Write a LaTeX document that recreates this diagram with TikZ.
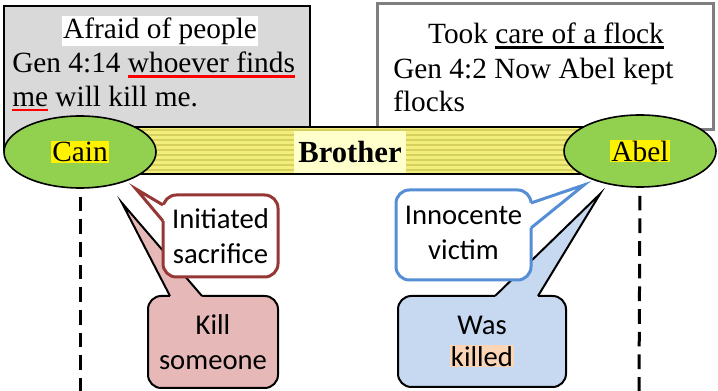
\documentclass[tikz,border=0pt]{standalone}
\usepackage{fontspec}
\setmainfont{Liberation Serif}
\newfontfamily\calloutfont{Carlito}
\usetikzlibrary{calc,shapes.geometric}

\definecolor{boxgray}{HTML}{D9D9D9}
\definecolor{boxframe}{HTML}{7F7F7F}
\definecolor{barlight}{HTML}{F2EE7C}
\definecolor{bardark}{HTML}{D6D05E}
\definecolor{brotheryellow}{HTML}{FFFFCC}
\definecolor{persongreen}{HTML}{92D050}
\definecolor{cainred}{HTML}{953735}
\definecolor{abelblue}{HTML}{558ED5}
\definecolor{killpink}{HTML}{E6B9B8}
\definecolor{wasblue}{HTML}{C6D9F1}
\definecolor{killedpeach}{HTML}{FBD5B5}

\newsavebox\ulbox
\newcommand\lineunder[2]{\sbox\ulbox{#2}\rlap{\textcolor{#1}{\rule[-3.8pt]{\wd\ulbox}{2pt}}}\usebox\ulbox}
\newcommand\marktext[2]{{\setlength{\fboxsep}{0.8pt}\colorbox{#1}{#2}}}

\begin{document}
\begin{tikzpicture}[x=0.75pt,y=-0.75pt,
  serif/.style={font=\fontsize{22}{25}\selectfont},
  person/.style={ellipse,draw,line width=1.2pt,fill=persongreen,minimum width=114pt,minimum height=54pt,inner sep=0pt,font=\fontsize{22}{25}\selectfont},
  callout/.style={rectangle,rounded corners=10pt,line width=2.25pt,outer sep=0pt,inner sep=0pt,align=center,font=\calloutfont\fontsize{21.5}{26}\selectfont},
  lifeline/.style={line width=2.25pt,dash pattern=on 11pt off 6pt,shorten <=6pt}]
\useasboundingbox (0,0) rectangle (718,391);

% verse boxes
\node (cainbox) [draw,line width=1.5pt,fill=boxgray,minimum width=229.5pt,minimum height=108pt] at (157,78) {};
\node (abelbox) [draw=boxframe,line width=2.25pt,fill=white,minimum width=252pt,minimum height=94.5pt] at (545,67) {};
\node (afraid) [serif,fill=white,inner sep=1pt] at (160,31) {Afraid of people};
\node (cainverse) [serif,anchor=north west,align=left,inner sep=0pt] at (12,52) {Gen 4:14 \lineunder{red}{whoever finds}\\\lineunder{red}{me} will kill me.};
\node (flock) [serif,inner sep=0pt] at (546,36) {Took \lineunder{black}{care of a flock}};
\node (abelverse) [serif,anchor=north west,align=left,inner sep=0pt] at (393,58) {Gen 4:2 Now Abel kept\\flocks};

% brother bar
\node (bar) [draw,line width=1.5pt,fill=barlight,minimum width=495pt,minimum height=35.25pt,path picture={
  \foreach \k in {0,...,9}
    \fill[bardark] ($(path picture bounding box.north west)+(0,2+\k*5)$) rectangle ++(700,2.5);
}] at (360,150.5) {};
\node (brother) [fill=brotheryellow,minimum width=83pt,minimum height=31.5pt,font=\bfseries\fontsize{23}{26}\selectfont] at (350,152) {Brother};

% persons
\node (cain) [person] at (80,152) {\marktext{yellow}{Cain}};
\node (abel) [person] at (640,151) {\marktext{yellow}{Abel}};

% lifelines
\coordinate (cainend) at (80,391);
\coordinate (abelend) at (639,391);
\draw[lifeline] (cain.south) -- (cainend);
\draw[lifeline] (abel.south) -- (abelend);

% lower callouts
\node (kill) [callout,draw=black,line width=1.5pt,fill=killpink,minimum width=97.5pt,minimum height=69pt] at (213,342) {Kill\\someone};
\coordinate (killtip) at (122,203);
\fill[killpink] (killtip) -- ($(kill.north west)+(22,0)$) -- ($(kill.north west)+(22,6)$) -- ($(kill.north west)+(54,6)$) -- ($(kill.north west)+(54,0)$) -- cycle;
\draw[line width=1.5pt] ($(kill.north west)+(22,0)$) -- (killtip) -- ($(kill.north west)+(54,0)$);

\node (was) [callout,draw=black,line width=1.5pt,fill=wasblue,minimum width=126pt,minimum height=68.25pt] at (482,341.5) {Was\\[-2pt]\marktext{killedpeach}{killed}};
\coordinate (wastip) at (600,194);
\fill[wasblue] (wastip) -- ($(was.north west)+(97,0)$) -- ($(was.north west)+(97,6)$) -- ($(was.north west)+(140,6)$) -- ($(was.north west)+(140,0)$) -- cycle;
\draw[line width=1.5pt] ($(was.north west)+(97,0)$) -- (wastip) -- ($(was.north west)+(140,0)$);

% upper callouts
\node (initiated) [callout,draw=cainred,fill=white,minimum width=86.25pt,minimum height=61.5pt] at (220.5,236) {Initiated\\sacrifice};
\coordinate (inittip) at (136,189);
\fill[white] (inittip) -- ($(initiated.north west)+(0,10)$) -- ($(initiated.north west)+(6,10)$) -- ($(initiated.north west)+(6,26)$) -- ($(initiated.north west)+(0,26)$) -- cycle;
\draw[cainred,line width=2.25pt] ($(initiated.north west)+(0,10)$) -- (inittip) -- ($(initiated.north west)+(0,26)$);

\node (innocente) [callout,draw=abelblue,fill=white,minimum width=101.25pt,minimum height=67.5pt] at (463.5,235) {\raisebox{3pt}{Innocente}\\\raisebox{3pt}{victim}};
\coordinate (innotip) at (584,185);
\fill[white] (innotip) -- ($(innocente.north east)+(0,13)$) -- ($(innocente.north east)+(-6,13)$) -- ($(innocente.north east)+(-6,38)$) -- ($(innocente.north east)+(0,38)$) -- cycle;
\draw[abelblue,line width=2.25pt] ($(innocente.north east)+(0,13)$) -- (innotip) -- ($(innocente.north east)+(0,38)$);
\end{tikzpicture}
\end{document}
